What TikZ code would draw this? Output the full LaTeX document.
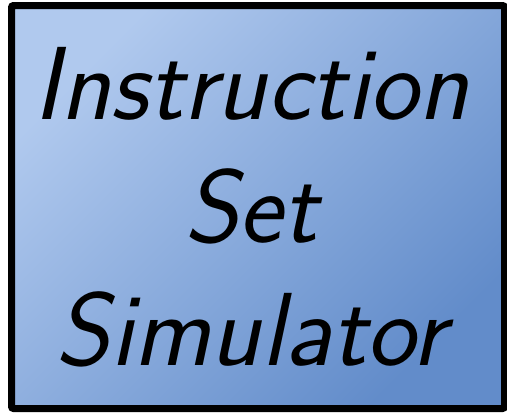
\documentclass[tikz,border=0pt]{standalone}
\usepackage{fontspec}
\definecolor{boxlight}{RGB}{176,201,238}
\definecolor{boxdark}{RGB}{98,140,202}
\tikzset{
  boxfill/.style={top color=boxlight, bottom color=boxdark, shading angle=45},
  boxframe/.style={draw=black, line width=7pt, rounded corners=2pt, inner sep=0pt},
  boxtext/.style={font=\fontsize{104}{123}\selectfont\sffamily\itshape,
    align=center, text=black, inner sep=0pt}
}
\begin{document}
\begin{tikzpicture}[x=1pt,y=-1pt]
  \useasboundingbox (0,0) rectangle (507,413);
  \shade[boxfill] (14,8) rectangle (502,406);
  \node[boxframe, minimum width=493pt, minimum height=403pt] (box) at (258,207) {};
  \node[boxtext, anchor=center] (label) at (251,207) {Instruction\\Set\\Simulator};
\end{tikzpicture}
\end{document}
